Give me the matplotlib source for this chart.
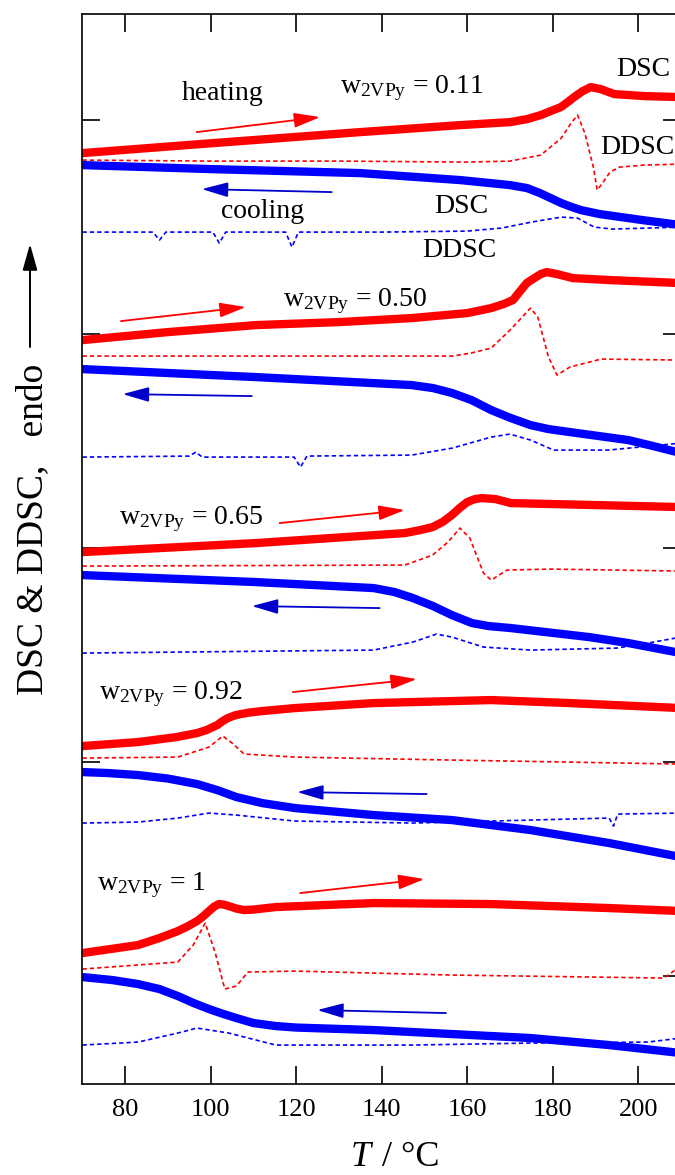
import matplotlib
matplotlib.use('Agg')
import matplotlib.pyplot as plt

plt.rcParams['font.family'] = ['Liberation Serif', 'DejaVu Serif']
plt.rcParams['mathtext.fontset'] = 'custom'
plt.rcParams['mathtext.rm'] = 'Liberation Serif'
plt.rcParams['mathtext.it'] = 'Liberation Serif:italic'

# compositions (mass fraction of 2VPy)
w_labels = ['0.11', '0.50', '0.65', '0.92', '1']

# --- w = 0.11 ---
h011_dsc_T = [70, 97.5, 135, 158.4, 170.1, 174, 177.2, 179.5, 181.9, 183.5, 185.0, 187, 188.9, 191.2, 194.4, 201.4, 210]
h011_dsc = [931, 940, 952, 959, 962, 965, 969, 973, 977, 982, 987, 993, 997, 995, 990, 988, 987]
h011_ddsc_T = [70, 100, 130, 160, 170, 177.2, 182, 184.3, 185.8, 187.5, 189.5, 190.4, 191.8, 193.4, 195.6, 201.4, 210]
h011_ddsc = [924, 923, 923, 922, 923, 929, 946, 961, 969, 951, 917, 894, 902, 912, 917, 919, 920]
c011_dsc_T = [70, 100, 135, 158.4, 170, 174, 177, 179.5, 182, 184.5, 186.6, 191, 201, 210]
c011_dsc = [919, 915, 911, 904, 899, 896, 891, 886, 881, 877, 874, 870, 864, 859]
c011_ddsc_T = [70, 86.5, 88, 89.5, 100.5, 102, 103.5, 117.5, 119, 120.5, 140, 160, 168, 175, 182, 185.8, 189.7, 194, 210]
c011_ddsc = [852, 852, 844, 852, 852, 841, 852, 852, 837, 852, 852, 853, 856, 862, 867, 866, 857, 855, 857]

# --- w = 0.50 ---
h050_dsc_T = [70, 90, 110.6, 130, 147, 160, 165.6, 168.5, 170.7, 172, 173.9, 175.7, 177.2, 178.6, 181, 184.7, 193.4, 210]
h050_dsc = [744, 752, 759, 762, 766, 771, 776, 780, 784, 791, 801, 806, 810, 812, 810, 806, 804, 801]
h050_ddsc_T = [70, 156.5, 160.9, 165.6, 170, 174.8, 176.5, 179, 181, 184, 191.3, 210]
h050_ddsc = [728, 728, 731, 736, 754, 776, 767, 727, 709, 717, 725, 724]
c050_dsc_T = [70, 110.6, 147, 152, 156.5, 161, 165.6, 170.2, 174.8, 179, 184, 197.7, 203.5, 210]
c050_dsc = [715, 707, 699, 696, 691, 684, 674, 666, 659, 655, 652, 644, 638, 631]
c050_ddsc_T = [70, 95, 96.5, 98, 119.5, 121, 122.5, 147, 156.5, 165.6, 170, 174.8, 180.2, 193, 210]
c050_ddsc = [627, 628, 632, 627, 627, 617, 628, 629, 636, 647, 650, 644, 634, 634, 641]

# --- w = 0.65 ---
h065_dsc_T = [70, 110.6, 145.4, 149, 151.9, 154.2, 156.4, 158.2, 160, 161.8, 163.4, 166.6, 170.2, 210]
h065_dsc = [532, 541, 551, 554, 557, 562, 569, 576, 582, 585, 586, 585, 581, 577]
h065_ddsc_T = [70, 145.4, 151.9, 155.5, 158.3, 160.6, 163.8, 165.6, 169.3, 179.4, 210]
h065_ddsc = [518, 519, 529, 542, 556, 546, 511, 504, 514, 515, 513]
c065_dsc_T = [70, 110.6, 138.1, 143, 147.3, 152, 156.4, 161.1, 165, 170.2, 188.5, 197.7, 210]
c065_dsc = [509, 502, 496, 492, 486, 478, 469, 461, 458, 456, 447, 441, 431]
c065_ddsc_T = [70, 138.1, 147.3, 152.8, 156.4, 163.8, 174.8, 195, 202.3, 210]
c065_ddsc = [431, 434, 442, 450, 447, 437, 434, 436, 441, 447]

# --- w = 0.92 ---
h092_dsc_T = [70, 83, 92, 96.8, 99, 101.5, 102.8, 104, 105.5, 107, 109, 112, 119.7, 138.1, 165.6, 184, 210]
h092_dsc = [338, 342, 347, 351, 354, 359, 363, 366, 368.5, 370, 371.5, 373, 376, 381, 384, 381, 376]
h092_ddsc_T = [70, 92.3, 99.6, 102.8, 105, 107.8, 119.7, 156.4, 210]
h092_ddsc = [326, 327, 337, 348, 341, 330, 327, 324, 320]
c092_dsc_T = [70, 76, 83, 90, 96.8, 101.5, 106, 112, 119.7, 138.1, 156.4, 174.8, 193.2, 210]
c092_dsc = [312, 311, 309, 305.5, 300, 294, 287, 281, 276, 269, 264, 254, 241, 227]
c092_ddsc_T = [70, 83, 92.3, 99.6, 106, 119.7, 147.3, 165.6, 193.2, 194.2, 195.2, 210]
c092_ddsc = [261, 262, 266, 271, 269, 263, 261, 263, 266, 258, 270, 271]

# --- w = 1 ---
h1_dsc_T = [70, 83, 88, 92.3, 94.5, 96.8, 98.3, 99.6, 100.8, 101.9, 103, 104.2, 106, 107.8, 110, 115.2, 138.1, 165.6, 193.2, 210]
h1_dsc = [131, 139, 146, 153, 157.5, 163, 168, 173, 177.5, 180, 179.5, 178, 175.5, 174, 174.5, 177, 181, 180, 176, 173]
h1_ddsc_T = [70, 92.3, 95.9, 98.7, 101, 103.3, 106, 108.7, 119.7, 156.4, 206, 208, 210]
h1_ddsc = [115, 122, 139, 161, 132, 95, 98, 112, 113, 109, 106, 112, 119]
c1_dsc_T = [70, 77, 83, 88, 92.3, 96, 99.6, 103, 106, 110, 115.2, 120, 138.1, 174.8, 193.2, 210]
c1_dsc = [107, 104, 100, 95, 88, 81, 75, 70, 66, 61, 58, 56.5, 54, 46, 39, 31]
c1_ddsc_T = [70, 83, 92.3, 96.8, 104.2, 115.2, 147.3, 174.8, 202.3, 210]
c1_ddsc = [39, 42, 51, 56, 51, 39, 39, 41, 42, 46]

# direction arrows (T, signal) and composition labels
heat_tail = [(96.7, 952), (79.0, 763), (116.1, 561), (119.2, 392), (120.9, 191)]
heat_head = [(125.6, 967), (108.2, 777), (145.4, 574), (148.2, 405), (150.0, 205)]
cool_tail = [(128.3, 892), (109.6, 688), (139.5, 476), (150.5, 290), (155.0, 71)]
cool_head = [(97.9, 895), (79.4, 690), (109.6, 478), (120.2, 292), (124.9, 74)]
label_T = [130.2, 117.0, 78.5, 73.9, 73.4]
label_y = [991, 778, 560, 385, 194]

RED = '#ff0000'
BLUE = '#0000ff'
BLUE_ARROW = '#0000cc'

heat_dsc = [(h011_dsc_T, h011_dsc), (h050_dsc_T, h050_dsc), (h065_dsc_T, h065_dsc),
            (h092_dsc_T, h092_dsc), (h1_dsc_T, h1_dsc)]
heat_ddsc = [(h011_ddsc_T, h011_ddsc), (h050_ddsc_T, h050_ddsc), (h065_ddsc_T, h065_ddsc),
             (h092_ddsc_T, h092_ddsc), (h1_ddsc_T, h1_ddsc)]
cool_dsc = [(c011_dsc_T, c011_dsc), (c050_dsc_T, c050_dsc), (c065_dsc_T, c065_dsc),
            (c092_dsc_T, c092_dsc), (c1_dsc_T, c1_dsc)]
cool_ddsc = [(c011_ddsc_T, c011_ddsc), (c050_ddsc_T, c050_ddsc), (c065_ddsc_T, c065_ddsc),
             (c092_ddsc_T, c092_ddsc), (c1_ddsc_T, c1_ddsc)]

fig = plt.figure(figsize=(6.75, 11.75), dpi=100)
ax = fig.add_axes([0.1222, 0.0774, 0.8867, 0.9106])

for t, y in heat_ddsc:
    ax.plot(t, y, color=RED, lw=1.2, dashes=(2.6, 1.8))
for t, y in cool_ddsc:
    ax.plot(t, y, color=BLUE, lw=1.2, dashes=(2.6, 1.8))
for t, y in cool_dsc:
    ax.plot(t, y, color=BLUE, lw=6, solid_capstyle='round', solid_joinstyle='round')
for t, y in heat_dsc:
    ax.plot(t, y, color=RED, lw=6, solid_capstyle='round', solid_joinstyle='round')

arrow_style = '-|>,head_length=1.6,head_width=0.45'
for tail, head in zip(heat_tail, heat_head):
    ax.annotate('', xy=head, xytext=tail,
                arrowprops=dict(arrowstyle=arrow_style, color=RED, lw=1.3,
                                shrinkA=0, shrinkB=0, mutation_scale=10))
for tail, head in zip(cool_tail, cool_head):
    ax.annotate('', xy=head, xytext=tail,
                arrowprops=dict(arrowstyle=arrow_style, color=BLUE_ARROW, lw=1.3,
                                shrinkA=0, shrinkB=0, mutation_scale=10))

for w, tx, ty in zip(w_labels, label_T, label_y):
    ax.text(tx, ty, r'w$_{\mathrm{2VPy}}$ = ' + w, fontsize=20, ha='left', va='baseline')

ax.text(102.9, 984, 'heating', fontsize=20, ha='center', va='baseline')
ax.text(112.1, 866, 'cooling', fontsize=20, ha='center', va='baseline')
ax.text(201.1, 1008, 'DSC', fontsize=20, ha='center', va='baseline')
ax.text(191.0, 930, 'DDSC', fontsize=20, ha='left', va='baseline', clip_on=False)
ax.text(158.7, 871, 'DSC', fontsize=20, ha='center', va='baseline')
ax.text(158.1, 827, 'DDSC', fontsize=20, ha='center', va='baseline')

ax.set_xlim(70, 210)
ax.set_ylim(0, 1070)
ax.set_xticks([80, 100, 120, 140, 160, 180, 200])
ax.set_yticks([108, 322, 536, 750, 964])
ax.set_yticklabels([])
ax.tick_params(direction='in', length=13, width=1.2, top=True, right=True,
               labelsize=19, pad=11)
for s in ax.spines.values():
    s.set_linewidth(1.2)

fig.text(371 / 675, 9 / 1175, 'T', fontsize=26, ha='right', va='baseline', style='italic')
fig.text(373 / 675, 9 / 1175, ' / °C', fontsize=26, ha='left', va='baseline')
fig.text(42 / 675, 1 - 529 / 1175, 'DSC & DDSC,   endo', fontsize=27, rotation=90,
         rotation_mode='anchor', ha='center', va='baseline')
fig.patches.append(matplotlib.patches.FancyArrowPatch(
    (30 / 675, 1 - 347 / 1175), (30 / 675, 1 - 244 / 1175), transform=fig.transFigure,
    arrowstyle='-|>,head_length=1.6,head_width=0.45', mutation_scale=10,
    color='black', lw=1.4, shrinkA=0, shrinkB=0))

fig.savefig('out.png', dpi=100)
